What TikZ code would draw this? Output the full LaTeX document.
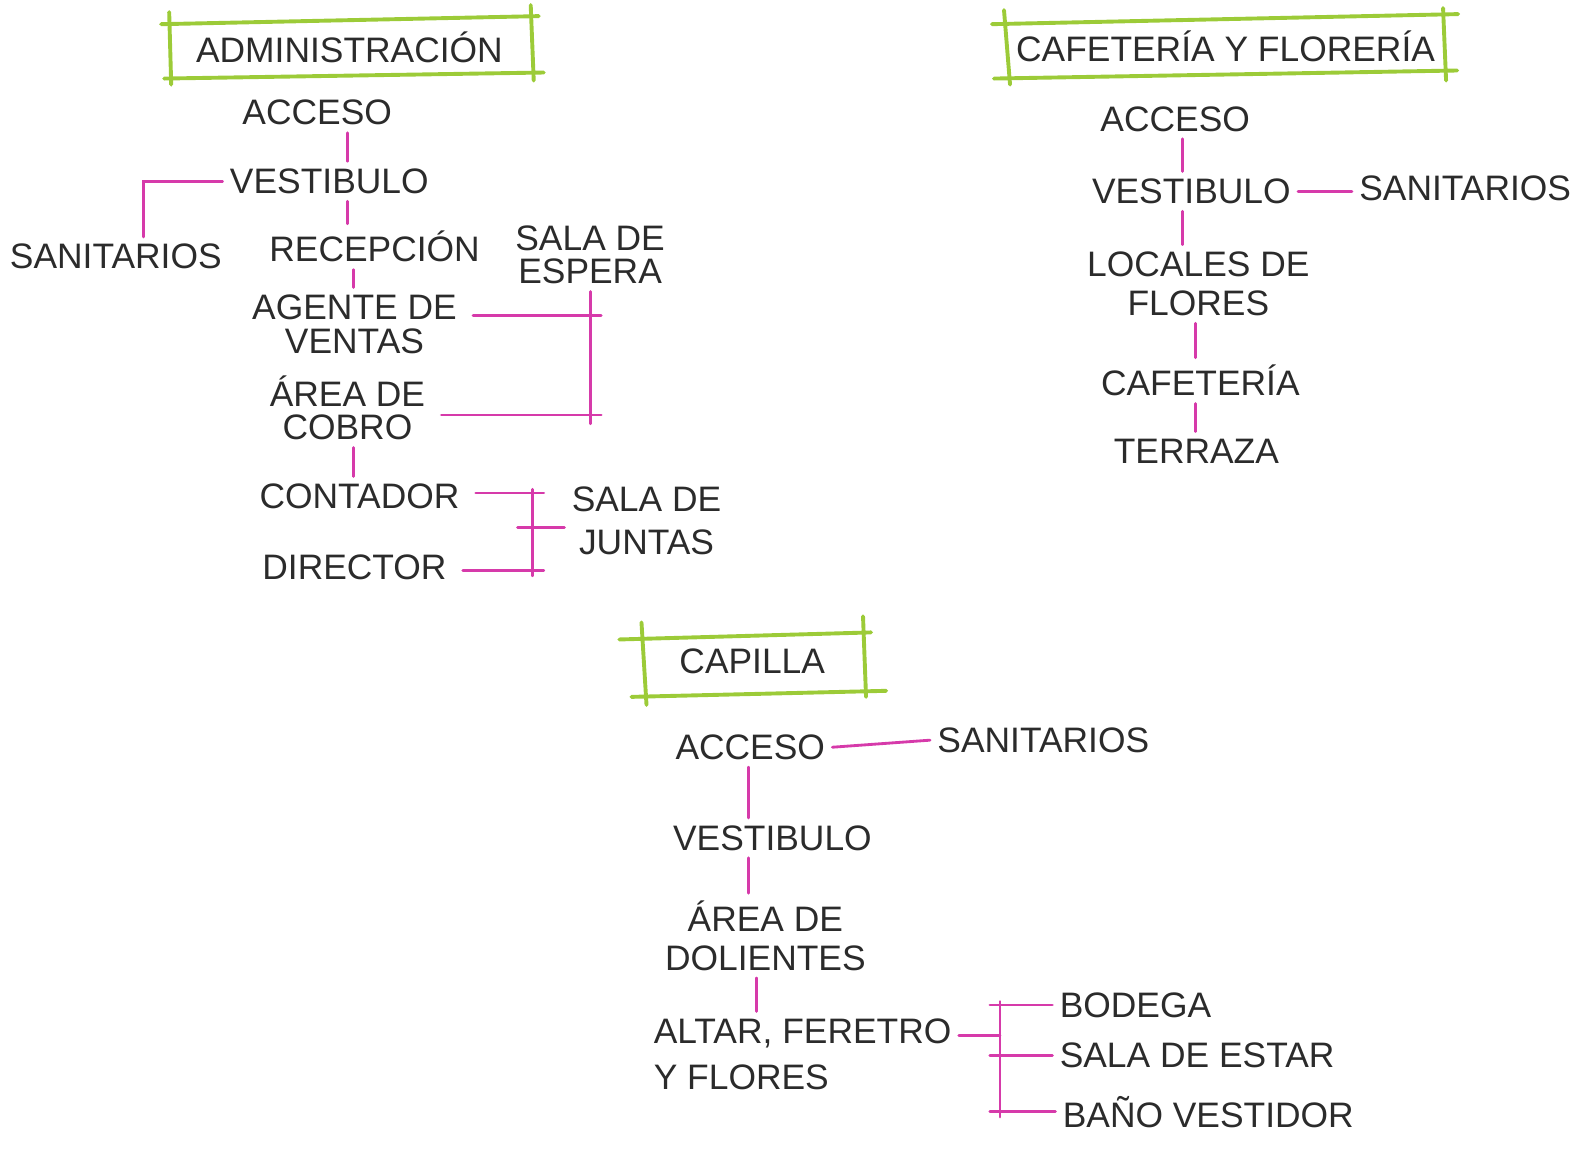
\documentclass[tikz,border=0pt]{standalone}
\usepackage{fontspec}
\setmainfont{Liberation Sans}

\definecolor{tinta}{HTML}{2B2B2B}
\definecolor{fucsia}{HTML}{D63AAA}
\definecolor{verde}{HTML}{9CCB38}

\tikzset{
  lbl/.style={text=tinta, font=\fontsize{20}{22}\selectfont, inner sep=4pt, align=center},
  link/.style={fucsia, line width=1.6pt, line cap=round},
  tick/.style={link, shorten <=5pt, shorten >=-0.22cm},
  marco/.style={verde, line width=2.2pt, line cap=round},
}

\begin{document}
\begin{tikzpicture}[x=0.02cm, y=-0.02cm]

  \useasboundingbox (0,0) rectangle (1568,1144);

  % Administración: título
  \node[lbl] (adm) at (347,47) {ADMINISTRACIÓN};
  \draw[marco] (160,24) -- (535,16);
  \draw[marco] (163,78) -- (540,72);
  \draw[marco] (168,12) -- (170,84);
  \draw[marco] (527,5) -- (530,80);

  % Administración: locales
  \node[lbl] (acc1) at (315,112) {ACCESO};
  \node[lbl] (ves1) at (327,180) {VESTIBULO};
  \node[lbl] (san1) at (115,255) {SANITARIOS};
  \node[lbl] (rec1) at (372,245) {RECEPCIÓN};
  \node[lbl, font=\fontsize{20}{19}\selectfont] (esp1) at (586,253) {SALA DE\\ESPERA};
  \node[lbl, font=\fontsize{20}{19}\selectfont] (age1) at (352,322) {AGENTE DE\\VENTAS};
  \node[lbl, font=\fontsize{20}{19}\selectfont] (cob1) at (345,405) {ÁREA DE\\COBRO};
  \node[lbl] (con1) at (357,493) {CONTADOR};
  \node[lbl] (dir1) at (352,563) {DIRECTOR};
  \node[lbl, font=\fontsize{20}{24}\selectfont] (jun1) at (642,517) {SALA DE\\JUNTAS};

  % Administración: enlaces
  \coordinate (spA) at (345,0);
  \coordinate (spB) at (351,0);
  \draw[link] (acc1.south -| spA) -- (ves1.north -| spA);
  \draw[link] (ves1.south -| spA) -- (rec1.north -| spA);
  \draw[link] (rec1.south -| spB) -- (age1.north -| spB);
  \draw[link] (cob1.south -| spB) -- (con1.north -| spB);
  \draw[link] (ves1.west) -| ([xshift=0.55cm]san1.north);

  % sala de espera
  \coordinate (bE) at (586,0);
  \draw[tick] ([yshift=5pt]age1.east) -- ([yshift=5pt]age1.east -| bE);
  \draw[tick] ([yshift=-4pt]cob1.east) -- ([yshift=-4pt]cob1.east -| bE);
  \draw[link] (esp1.south -| bE) -- ([yshift=-9pt]cob1.east -| bE);

  % sala de juntas
  \coordinate (bJ) at (529,0);
  \draw[tick] ([yshift=2pt]con1.east) -- ([yshift=2pt]con1.east -| bJ);
  \draw[tick] ([yshift=-2pt]dir1.east) -- ([yshift=-2pt]dir1.east -| bJ);
  \draw[link] ([yshift=4pt]con1.east -| bJ) -- ([yshift=-5pt]dir1.east -| bJ);
  \draw[link, shorten <=-0.3cm] ([yshift=-4pt]jun1.west -| bJ) -- ([yshift=-4pt]jun1.west);

  % Cafetería y florería: título
  \node[lbl] (caf) at (1217,46) {CAFETERÍA Y FLORERÍA};
  \draw[marco] (985,24) -- (1448,14);
  \draw[marco] (987,78) -- (1447,70);
  \draw[marco] (997,10) -- (1003,84);
  \draw[marco] (1433,8) -- (1436,80);

  % Cafetería y florería: locales
  \node[lbl] (acc2) at (1167,118) {ACCESO};
  \node[lbl] (ves2) at (1183,190) {VESTIBULO};
  \node[lbl] (san2) at (1455,187) {SANITARIOS};
  \node[lbl] (loc2) at (1190,282) {LOCALES DE\\FLORES};
  \node[lbl] (cft2) at (1192,378) {CAFETERÍA};
  \node[lbl] (ter2) at (1188,448) {TERRAZA};

  % Cafetería y florería: enlaces
  \coordinate (spC) at (1174,0);
  \coordinate (spD) at (1187,0);
  \draw[link] (acc2.south -| spC) -- (ves2.north -| spC);
  \draw[link] (ves2.south -| spC) -- (loc2.north -| spC);
  \draw[link] (loc2.south -| spD) -- (cft2.north -| spD);
  \draw[link] (cft2.south -| spD) -- (ter2.north -| spD);
  \draw[link] (ves2.east) -- (ves2.east -| san2.west);

  % Capilla: título
  \node[lbl] (cap) at (747,657) {CAPILLA};
  \draw[marco] (615,635) -- (865,628);
  \draw[marco] (627,692) -- (880,686);
  \draw[marco] (637,618) -- (642,700);
  \draw[marco] (857,612) -- (860,692);

  % Capilla: locales
  \node[lbl] (acc3) at (745,742) {ACCESO};
  \node[lbl] (san3) at (1036,735) {SANITARIOS};
  \node[lbl] (ves3) at (767,832) {VESTIBULO};
  \node[lbl] (dol3) at (760,929) {ÁREA DE\\DOLIENTES};
  \node[lbl, align=left, font=\fontsize{20}{26}\selectfont] (alt3) at (797,1047) {ALTAR, FERETRO\\Y FLORES};
  \node[lbl, anchor=west] (bod3) at (1045,998) {BODEGA};
  \node[lbl, anchor=west] (est3) at (1045,1048) {SALA DE ESTAR};
  \node[lbl, anchor=west] (bano3) at (1048,1104) {BAÑO VESTIDOR};

  % Capilla: enlaces
  \coordinate (spF) at (743,0);
  \coordinate (spG) at (751,0);
  \draw[link] (acc3.east) -- (san3.west);
  \draw[link] (acc3.south -| spF) -- (ves3.north -| spF);
  \draw[link] (ves3.south -| spF) -- (dol3.north -| spF);
  \draw[link] (dol3.south -| spG) -- (alt3.north -| spG);

  % bodega, sala de estar, baño
  \coordinate (bC) at (993,0);
  \draw[link] ([yshift=10.5pt]alt3.east) -- ([yshift=10.5pt]alt3.east -| bC);
  \draw[link] ([yshift=2pt]bod3.west -| bC) -- ([yshift=-3pt]bano3.west -| bC);
  \draw[link, shorten <=-0.2cm] (bod3.west -| bC) -- (bod3.west);
  \draw[link, shorten <=-0.2cm] (est3.west -| bC) -- (est3.west);
  \draw[link, shorten <=-0.2cm] (bano3.west -| bC) -- (bano3.west);

\end{tikzpicture}
\end{document}
